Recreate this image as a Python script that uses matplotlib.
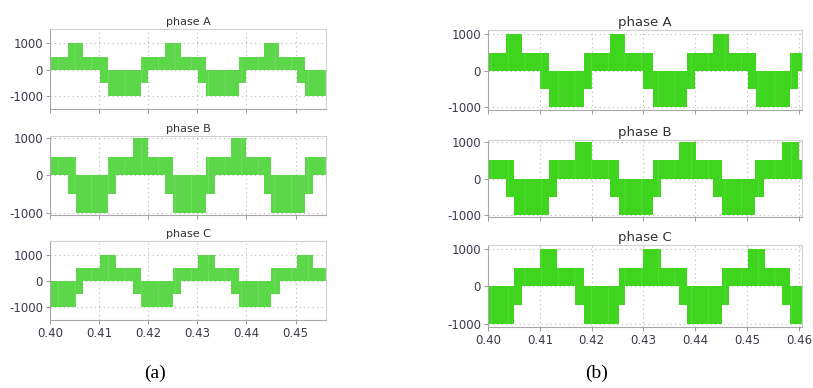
import matplotlib
matplotlib.use("Agg")
import matplotlib.pyplot as plt
import numpy as np

plt.rcParams["axes.unicode_minus"] = False
plt.rcParams["hatch.linewidth"] = 0.6

# switching-band edges (s) and lower / upper level of the PWM band (V)
a_A_t = [0.40, 0.4036, 0.4067, 0.4101, 0.4118, 0.4186, 0.4199, 0.4235, 0.4266,
         0.4301, 0.4318, 0.4385, 0.4400, 0.4436, 0.4467, 0.4502, 0.4519, 0.4562]
a_A_lo = [0, 0, 0, -500, -1000, -500, 0, 0, 0, -500, -1000, -500, 0, 0, 0, -500, -1000]
a_A_hi = [500, 1000, 500, 500, 0, 500, 500, 1000, 500, 500, 0, 500, 500, 1000, 500, 500, 0]

a_B_t = [0.40, 0.4036, 0.4052, 0.4118, 0.4135, 0.4169, 0.4199, 0.4235, 0.4250,
         0.4318, 0.4335, 0.4369, 0.4400, 0.4436, 0.4451, 0.4519, 0.4536, 0.4562]
a_B_lo = [0, -500, -1000, -500, 0, 0, 0, -500, -1000, -500, 0, 0, 0, -500, -1000, -500, 0]
a_B_hi = [500, 500, 0, 500, 500, 1000, 500, 500, 0, 500, 500, 1000, 500, 500, 0, 500, 500]

a_C_t = [0.40, 0.4052, 0.4067, 0.4101, 0.4135, 0.4169, 0.4186, 0.4250, 0.4267,
         0.4301, 0.4335, 0.4369, 0.4385, 0.4451, 0.4468, 0.4502, 0.4536, 0.4562]
a_C_lo = [-1000, -500, 0, 0, 0, -500, -1000, -500, 0, 0, 0, -500, -1000, -500, 0, 0, 0]
a_C_hi = [0, 500, 500, 1000, 500, 500, 0, 500, 500, 1000, 500, 500, 0, 500, 500, 1000, 500]

b_A_t = [0.40, 0.4035, 0.4066, 0.4101, 0.4117, 0.4185, 0.4201, 0.4235, 0.4265, 0.4300,
         0.4318, 0.4384, 0.4400, 0.4435, 0.4466, 0.4502, 0.4518, 0.4583, 0.4599, 0.4606]
b_A_lo = [0, 0, 0, -500, -1000, -500, 0, 0, 0, -500, -1000, -500, 0, 0, 0, -500, -1000, -500, 0]
b_A_hi = [500, 1000, 500, 500, 0, 500, 500, 1000, 500, 500, 0, 500, 500, 1000, 500, 500, 0, 500, 500]

b_B_t = [0.40, 0.4035, 0.4051, 0.4117, 0.4133, 0.4167, 0.4201, 0.4236, 0.4252, 0.4318,
         0.4334, 0.4368, 0.4402, 0.4435, 0.4451, 0.4516, 0.4532, 0.4567, 0.4601, 0.4606]
b_B_lo = [0, -500, -1000, -500, 0, 0, 0, -500, -1000, -500, 0, 0, 0, -500, -1000, -500, 0, 0, 0]
b_B_hi = [500, 500, 0, 500, 500, 1000, 500, 500, 0, 500, 500, 1000, 500, 500, 0, 500, 500, 1000, 500]

b_C_t = [0.40, 0.4051, 0.4066, 0.4101, 0.4134, 0.4168, 0.4185, 0.4252, 0.4265, 0.4300,
         0.4334, 0.4368, 0.4384, 0.4451, 0.4466, 0.4502, 0.4535, 0.4567, 0.4583, 0.4606]
b_C_lo = [-1000, -500, 0, 0, 0, -500, -1000, -500, 0, 0, 0, -500, -1000, -500, 0, 0, 0, -500, -1000]
b_C_hi = [0, 500, 500, 1000, 500, 500, 0, 500, 500, 1000, 500, 500, 0, 500, 500, 1000, 500, 500, 0]

phases = ["phase A", "phase B", "phase C"]
y_ticks = [-1000, 0, 1000]
a_x_ticks = [0.40, 0.41, 0.42, 0.43, 0.44, 0.45]
b_x_ticks = [0.40, 0.41, 0.42, 0.43, 0.44, 0.45, 0.46]

W, H = 813, 388
fig = plt.figure(figsize=(W / 100, H / 100), dpi=100)
fig.patch.set_facecolor("white")

def px_axes(left, top, right, bottom):
    return fig.add_axes([left / W, 1 - bottom / H, (right - left) / W, (bottom - top) / H])

def style(ax, xlim, ylim, xticks, show_x, title, title_size):
    ax.set_xlim(*xlim)
    ax.set_ylim(*ylim)
    ax.set_xticks(xticks)
    ax.set_yticks(y_ticks)
    ax.grid(True, color="#b8b8b8", linestyle=(0, (1, 3)), linewidth=0.8)
    ax.set_axisbelow(True)
    for s in ["top", "right"]:
        ax.spines[s].set_color("#d0d0d0")
    for s in ["left", "bottom"]:
        ax.spines[s].set_color("#a8a8a8")
    for s in ax.spines.values():
        s.set_linewidth(0.8)
    ax.tick_params(length=3, width=0.7, color="#999999", labelsize=8.5,
                   labelcolor="#3a3a4a", pad=2)
    if show_x:
        ax.xaxis.set_major_formatter(plt.FormatStrFormatter("%.2f"))
    else:
        ax.tick_params(axis="x", labelbottom=False)
    ax.set_title(title, fontsize=title_size, color="#333333", pad=3)

def band(ax, t, lo, hi, color, stripe):
    t = np.array(t)
    lo = np.append(lo, lo[-1])
    hi = np.append(hi, hi[-1])
    # PWM switching shows as faint vertical stripes inside the band
    ax.fill_between(t, lo, hi, step="post", facecolor=color, edgecolor=stripe,
                    hatch="|", linewidth=0, zorder=2)

# panel (a)
green_a = "#5dd74a"
a_boxes = [(50, 29, 326, 109), (50, 136, 326, 215), (50, 241, 326, 320)]
a_ylims = [(-1490, 1550), (-1060, 1055), (-1480, 1520)]
a_data = [(a_A_t, a_A_lo, a_A_hi), (a_B_t, a_B_lo, a_B_hi), (a_C_t, a_C_lo, a_C_hi)]
for i in range(3):
    ax = px_axes(*a_boxes[i])
    band(ax, *a_data[i], green_a, "#74dd64")
    style(ax, (0.40, 0.4562), a_ylims[i], a_x_ticks, i == 2, phases[i], 8)

# panel (b)
green_b = "#3fd51e"
b_boxes = [(488, 30, 802, 110), (488, 140, 802, 217), (488, 245, 802, 327)]
b_ylims = [(-1075, 1120), (-1050, 1050), (-1090, 1115)]
b_data = [(b_A_t, b_A_lo, b_A_hi), (b_B_t, b_B_lo, b_B_hi), (b_C_t, b_C_lo, b_C_hi)]
for i in range(3):
    ax = px_axes(*b_boxes[i])
    band(ax, *b_data[i], green_b, "#5adb3e")
    style(ax, (0.40, 0.4606), b_ylims[i], b_x_ticks, i == 2, phases[i], 9.5)

fig.text(155 / W, 1 - 373 / H, "(a)", ha="center", va="center",
         fontsize=14, family="Liberation Serif")
fig.text(597 / W, 1 - 373 / H, "(b)", ha="center", va="center",
         fontsize=14, family="Liberation Serif")

fig.savefig("out.png", dpi=100)
